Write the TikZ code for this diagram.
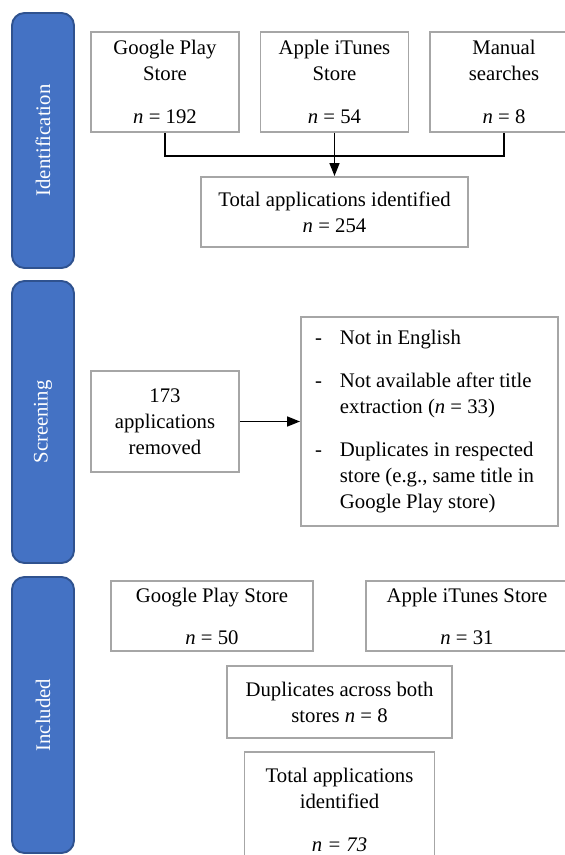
\documentclass[tikz,border=0pt]{standalone}
\usepackage{fontspec}
\setmainfont{Liberation Serif}
\usetikzlibrary{positioning,arrows.meta}

\definecolor{barblue}{HTML}{4472C4}
\definecolor{barline}{HTML}{2F528F}
\definecolor{boxgray}{HTML}{A6A6A6}

\tikzset{
  phase/.style={draw=barline,fill=barblue,line width=1.1pt,rounded corners=0.25cm,
    minimum height=1.24cm,rotate=90,text=white},
  stage/.style={draw=boxgray,line width=1.1pt,align=center,inner sep=0pt},
  store/.style={stage,minimum width=2.96cm,minimum height=2cm}
}

\begin{document}
\begin{tikzpicture}[>={Triangle[length=0.26cm,width=0.2cm]},on grid,line width=0.85pt,
    font=\rmfamily\fontsize{11.8}{14.8}\selectfont]
  \useasboundingbox (0,0) rectangle (11.3,-17.1);

  \node[phase,minimum width=5.1cm]  (l_0) at (0.86,-2.81) {Identification};
  \node[phase,minimum width=5.64cm] (l_1) [below=5.63cm of l_0] {Screening};
  \node[phase,minimum width=5.52cm] (l_2) [below=5.86cm of l_1] {Included};

  \node[store] (b_0) at (3.30,-1.64) {Google Play\\Store\\[0.34cm]\textit{n} = 192};
  \node[store] (b_1) [right=3.39cm of b_0] {Apple iTunes\\Store\\[0.34cm]\textit{n} = 54};
  \node[store] (b_2) [right=3.39cm of b_1] {Manual\\searches\\[0.34cm]\textit{n} = 8};
  \node[stage,minimum width=5.34cm,minimum height=1.4cm] (b_3) [below=2.6cm of b_1]
    {Total applications identified\\\textit{n} = 254};
  \coordinate[below=0.46cm of b_1.south] (j_0);

  \node[stage,minimum width=2.96cm,minimum height=2.02cm] (b_4) [below=6.79cm of b_0]
    {173\\applications\\removed};
  \node[stage,minimum width=5.14cm,minimum height=4.18cm] (b_5) [right=5.29cm of b_4]
    {\begin{tabular}{@{}l@{\hspace{0.36cm}}l@{}}
      - & Not in English\\[0.34cm]
      - & Not available after title\\
        & extraction (\textit{n} = 33)\\[0.34cm]
      - & Duplicates in respected\\
        & store (e.g., same title in\\
        & Google Play store)
    \end{tabular}\hspace*{0.2cm}};

  \node[stage,minimum width=4.04cm,minimum height=1.4cm] (b_6) at (4.24,-12.32)
    {Google Play Store\\[0.32cm]\textit{n} = 50};
  \node[stage,minimum width=4.04cm,minimum height=1.4cm] (b_7) [right=5.1cm of b_6]
    {Apple iTunes Store\\[0.32cm]\textit{n} = 31};
  \node[stage,minimum width=4.5cm,minimum height=1.44cm] (b_8) [below right=1.72cm and 2.55cm of b_6]
    {Duplicates across both\\stores \textit{n} = 8};
  \node[stage,minimum width=3.8cm,minimum height=2.32cm] (b_9) [below=2.16cm of b_8]
    {Total applications\\identified\\[0.34cm]\textit{n = 73}};

  \draw (b_0) |- (j_0) -| (b_2);
  \path[->] (b_1) edge (b_3)
            (b_4) edge (b_5);
\end{tikzpicture}
\end{document}
